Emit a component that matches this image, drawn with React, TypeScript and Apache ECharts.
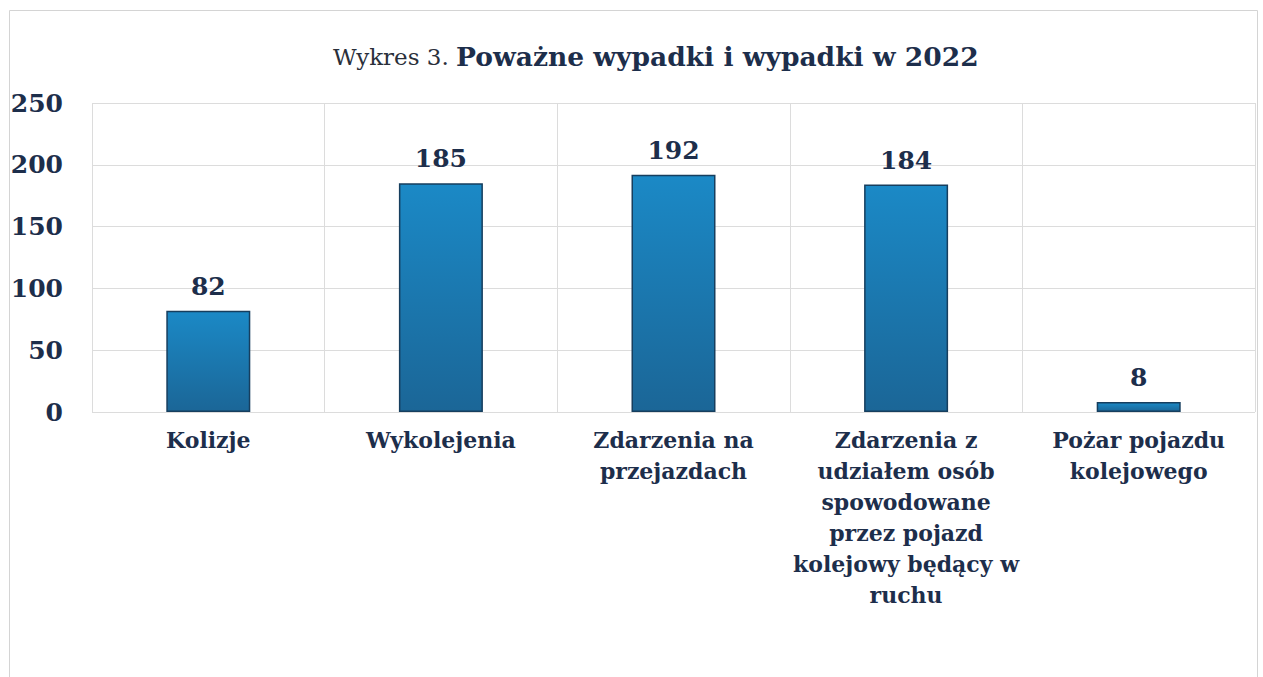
import React, { useEffect, useRef } from "react";
import * as echarts from "echarts";

const titlePrefix = "Wykres 3.";
const titleMain = "Poważne wypadki i wypadki w 2022";
const categories = [
  "Kolizje",
  "Wykolejenia",
  "Zdarzenia na\nprzejazdach",
  "Zdarzenia z\nudziałem osób\nspowodowane\nprzez pojazd\nkolejowy będący w\nruchu",
  "Pożar pojazdu\nkolejowego",
];
const values = [82, 185, 192, 184, 8];
const yTicks = { min: 0, max: 250, interval: 50 };

const FONT = "DejaVu Serif";
const TEXT = "#1d2e4b";

export default function App() {
  const ref = useRef<HTMLDivElement>(null);
  useEffect(() => {
    if (!ref.current) return;
    const chart = echarts.init(ref.current, null, { renderer: "svg" });
    chart.setOption({
      animation: false,
      backgroundColor: "#ffffff",
      title: {
        text: `{a|${titlePrefix} }{b|${titleMain}}`,
        left: 328,
        top: 38,
        textStyle: {
          rich: {
            a: { fontFamily: FONT, fontSize: 23, color: "#2a2f3a", fontWeight: "normal" },
            b: { fontFamily: FONT, fontSize: 26.5, color: TEXT, fontWeight: "bold" },
          },
        },
      },
      graphic: [
        {
          type: "rect",
          shape: { x: 9.5, y: 10.5, width: 1248, height: 700 },
          style: { fill: "none", stroke: "#d4d4d4", lineWidth: 1 },
          silent: true,
        },
      ],
      grid: { left: 92, right: 8, top: 103, bottom: 265, containLabel: false },
      xAxis: {
        type: "category",
        data: categories,
        axisLine: { show: false },
        axisTick: { show: false },
        splitLine: { show: true, lineStyle: { color: "#dcdcdc", width: 1 } },
        axisLabel: {
          interval: 0,
          margin: 12,
          formatter: (v: string) =>
            v
              .split("\n")
              .map((l) => `{l|${l}}`)
              .join("\n"),
          rich: {
            l: {
              fontFamily: FONT,
              fontSize: 22,
              fontWeight: "bold",
              color: TEXT,
              lineHeight: 31,
              align: "center",
            },
          },
        },
      },
      yAxis: {
        type: "value",
        min: yTicks.min,
        max: yTicks.max,
        interval: yTicks.interval,
        axisLine: { show: false },
        axisTick: { show: false },
        splitLine: { show: true, lineStyle: { color: "#dcdcdc", width: 1 } },
        axisLabel: {
          margin: 29,
          fontFamily: FONT,
          fontSize: 25,
          fontWeight: "bold",
          color: TEXT,
        },
      },
      series: [
        {
          type: "bar",
          data: values,
          barWidth: 84,
          itemStyle: {
            color: new echarts.graphic.LinearGradient(0, 0, 0, 1, [
              { offset: 0, color: "#1b89c6" },
              { offset: 1, color: "#1b6697" },
            ]),
            borderColor: "#163e5e",
            borderWidth: 1.5,
          },
          label: {
            show: true,
            position: "top",
            distance: 12,
            fontFamily: FONT,
            fontSize: 25,
            fontWeight: "bold",
            color: TEXT,
          },
        },
      ],
    });
    return () => chart.dispose();
  }, []);
  return (
    <div
      ref={ref}
      style={{ position: "fixed", left: 0, top: 0, width: 1263, height: 677 }}
    />
  );
}
